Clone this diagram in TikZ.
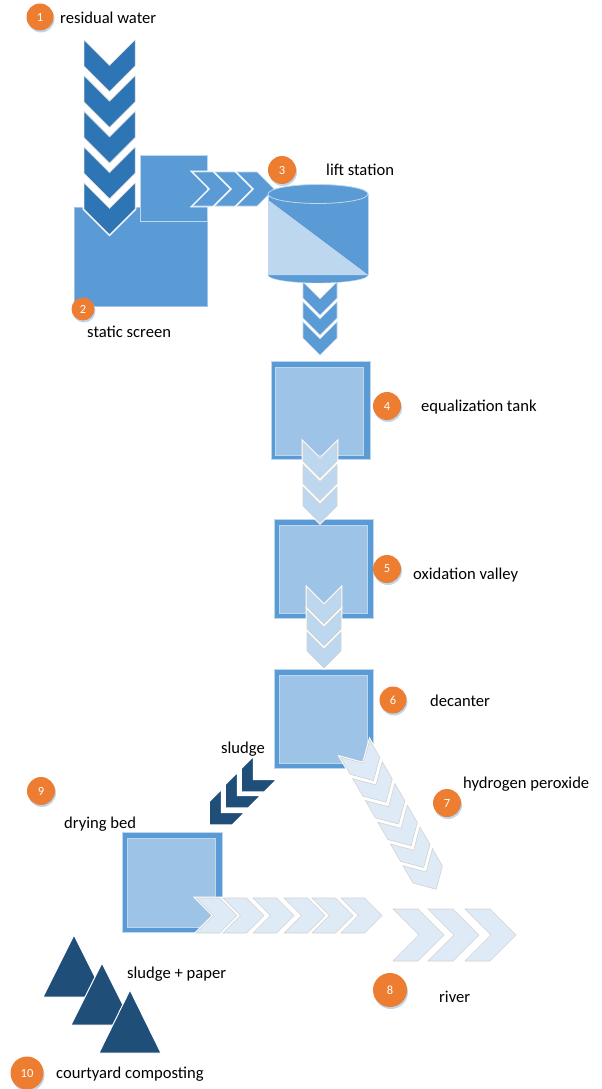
\documentclass[tikz,border=0pt]{standalone}
\usepackage{fontspec}
\setmainfont{Carlito}
\definecolor{navy}{HTML}{1F4E79}
\definecolor{deepblue}{HTML}{2E75B6}
\definecolor{midblue}{HTML}{5B9BD5}
\definecolor{softblue}{HTML}{9DC3E6}
\definecolor{paleblue}{HTML}{BDD7EE}
\definecolor{mistblue}{HTML}{DEEBF7}
\definecolor{dotorange}{HTML}{ED7D31}
\newcommand{\chevron}[6]{\path[#6, shift={(#1,#2)}, rotate=#3] (0,#4) -- (#4,0) -- (0,-#4) -- (#5,-#4) -- ({#5+#4},0) -- (#5,#4) -- cycle;}
\newcommand{\stagedot}[4]{\fill[paleblue] ({#2+1},{#3+2}) circle ({#4/2});
	\node[numdot, minimum size=#4pt] (dot#1) at (#2,#3) {#1};}

\begin{document}
\begin{tikzpicture}[x=1pt, y=-1pt,
		numdot/.style={circle, fill=dotorange, text=white, inner sep=0pt, font=\fontsize{12.5}{14}\selectfont},
		tag/.style={anchor=base west, inner sep=0pt, font=\fontsize{16.6}{20}\selectfont},
		screen/.style={fill=midblue, draw=softblue, line width=0.6pt},
		tankout/.style={fill=midblue, draw=paleblue, line width=0.5pt},
		tankin/.style={fill=softblue, draw=paleblue, line width=0.7pt},
		chevdeep/.style={fill=deepblue, draw=gray!30, line width=0.5pt, preaction={draw=white, line width=2.6pt}},
		chevmid/.style={fill=midblue, draw=paleblue, line width=0.6pt, preaction={draw=white, line width=2.6pt}},
		chevpale/.style={fill=paleblue, draw=gray!35, line width=0.6pt, preaction={draw=white, line width=2.6pt}},
		chevmist/.style={fill=mistblue, draw=gray!35, line width=0.6pt, preaction={draw=white, line width=2.6pt}},
		chevnavy/.style={fill=navy, draw=white, line width=1.5pt},
		heap/.style={fill=navy, draw=white, line width=1pt}]
	\useasboundingbox (0,0) rectangle (602,1089);

	\draw[screen] (74,207) rectangle (207,306);
	\chevron{109.5}{40}{-90}{25.5}{26}{chevdeep}
	\chevron{109.5}{75.75}{-90}{25.5}{26}{chevdeep}
	\chevron{109.5}{111.5}{-90}{25.5}{26}{chevdeep}
	\chevron{109.5}{147.25}{-90}{25.5}{26}{chevdeep}
	\chevron{109.5}{183}{-90}{25.5}{26}{chevdeep}
	\draw[screen, draw=paleblue] (140,155) rectangle (207,221);
	\chevron{193}{189}{0}{17}{20}{chevmid}
	\chevron{215}{189}{0}{17}{20}{chevmid}
	\chevron{237}{189}{0}{17}{20}{chevmid}

	\chevron{320}{282}{-90}{17}{16}{chevmid}
	\chevron{320}{302}{-90}{17}{16}{chevmid}
	\chevron{320}{322}{-90}{17}{16}{chevmid}
	\filldraw[fill=midblue, draw=paleblue] (318,275) ellipse (50 and 8);
	\fill[midblue] (268,194) -- (368,194) -- (368,275) -- (268,200) -- cycle;
	\fill[paleblue] (268,200) -- (368,275) -- (268,275) -- cycle;
	\draw[paleblue, line width=0.6pt] (268,194) -- (268,275) (368,194) -- (368,275);
	\filldraw[fill=midblue, draw=paleblue, line width=0.8pt] (318,194) ellipse (50 and 9.5);

	\draw[tankout] (271,361) rectangle (370,459);
	\draw[tankin] (275.5,367) rectangle (363.5,455);
	\draw[tankout] (274,519) rectangle (373,618);
	\draw[tankin] (279,525) rectangle (367,613);
	\draw[tankout] (274,669) rectangle (373,768);
	\draw[tankin] (279,675) rectangle (367,763);
	\draw[tankout] (122,832) rectangle (222,932);
	\draw[tankin] (127,838) rectangle (215,927);

	\chevron{320}{442}{-90}{17}{19}{chevpale}
	\chevron{320}{464.5}{-90}{17}{19}{chevpale}
	\chevron{320}{487}{-90}{17}{19}{chevpale}
	\chevron{324}{588}{-90}{17}{19}{chevpale}
	\chevron{324}{610}{-90}{17}{19}{chevpale}
	\chevron{324}{632}{-90}{17}{19}{chevpale}

	\chevron{355}{748.5}{-60}{17}{20}{chevmist}
	\chevron{367.5}{770.2}{-60}{17}{20}{chevmist}
	\chevron{380.1}{792}{-60}{17}{20}{chevmist}
	\chevron{392.6}{813.7}{-60}{17}{20}{chevmist}
	\chevron{405.2}{835.5}{-60}{17}{20}{chevmist}
	\chevron{417.7}{857.2}{-60}{17}{20}{chevmist}

	\chevron{265.4}{767.6}{-135}{16.5}{18}{chevnavy}
	\chevron{249.4}{783.6}{-135}{16.5}{18}{chevnavy}
	\chevron{233.4}{800.6}{-135}{16.5}{18}{chevnavy}

	\chevron{196}{915.5}{0}{17.5}{23.5}{chevmist}
	\chevron{223}{915.5}{0}{17.5}{23.5}{chevmist}
	\chevron{253}{915.5}{0}{17.5}{23.5}{chevmist}
	\chevron{284}{915.5}{0}{17.5}{23.5}{chevmist}
	\chevron{312}{915.5}{0}{17.5}{23.5}{chevmist}
	\chevron{341}{915.5}{0}{17.5}{23.5}{chevmist}
	\chevron{393}{935}{0}{26}{25}{chevmist}
	\chevron{428}{935}{0}{26}{25}{chevmist}
	\chevron{465}{935}{0}{26}{25}{chevmist}

	\draw[heap] (74,935) -- (105,997) -- (43,997) -- cycle;
	\draw[heap] (102,963) -- (133,1025) -- (71,1025) -- cycle;
	\draw[heap] (130,990) -- (161,1053) -- (99,1053) -- cycle;

	\stagedot{1}{40}{17}{27}
	\stagedot{2}{83}{309}{23}
	\stagedot{3}{282}{170}{28}
	\stagedot{4}{387}{406}{28}
	\stagedot{5}{387}{569}{28}
	\stagedot{6}{393}{700}{27}
	\stagedot{7}{447}{803}{28}
	\stagedot{8}{390}{990}{34}
	\stagedot{9}{41}{791}{28}
	\stagedot{10}{27}{1073}{33}

	\node[tag] (residual) at (60,24) {residual water};
	\node[tag] (screentag) at (87,337) {static screen};
	\node[tag] (lift) at (326,175) {lift station};
	\node[tag] (equal) at (421,411) {equalization tank};
	\node[tag] (oxid) at (413,579) {oxidation valley};
	\node[tag] (decant) at (430,706) {decanter};
	\node[tag] (sludge) at (221,753) {sludge};
	\node[tag] (peroxide) at (463,788) {hydrogen peroxide};
	\node[tag] (drying) at (64,828) {drying bed};
	\node[tag] (paper) at (127,978) {sludge + paper};
	\node[tag] (river) at (439,1002) {river};
	\node[tag] (compost) at (56,1078) {courtyard composting};
\end{tikzpicture}
\end{document}
